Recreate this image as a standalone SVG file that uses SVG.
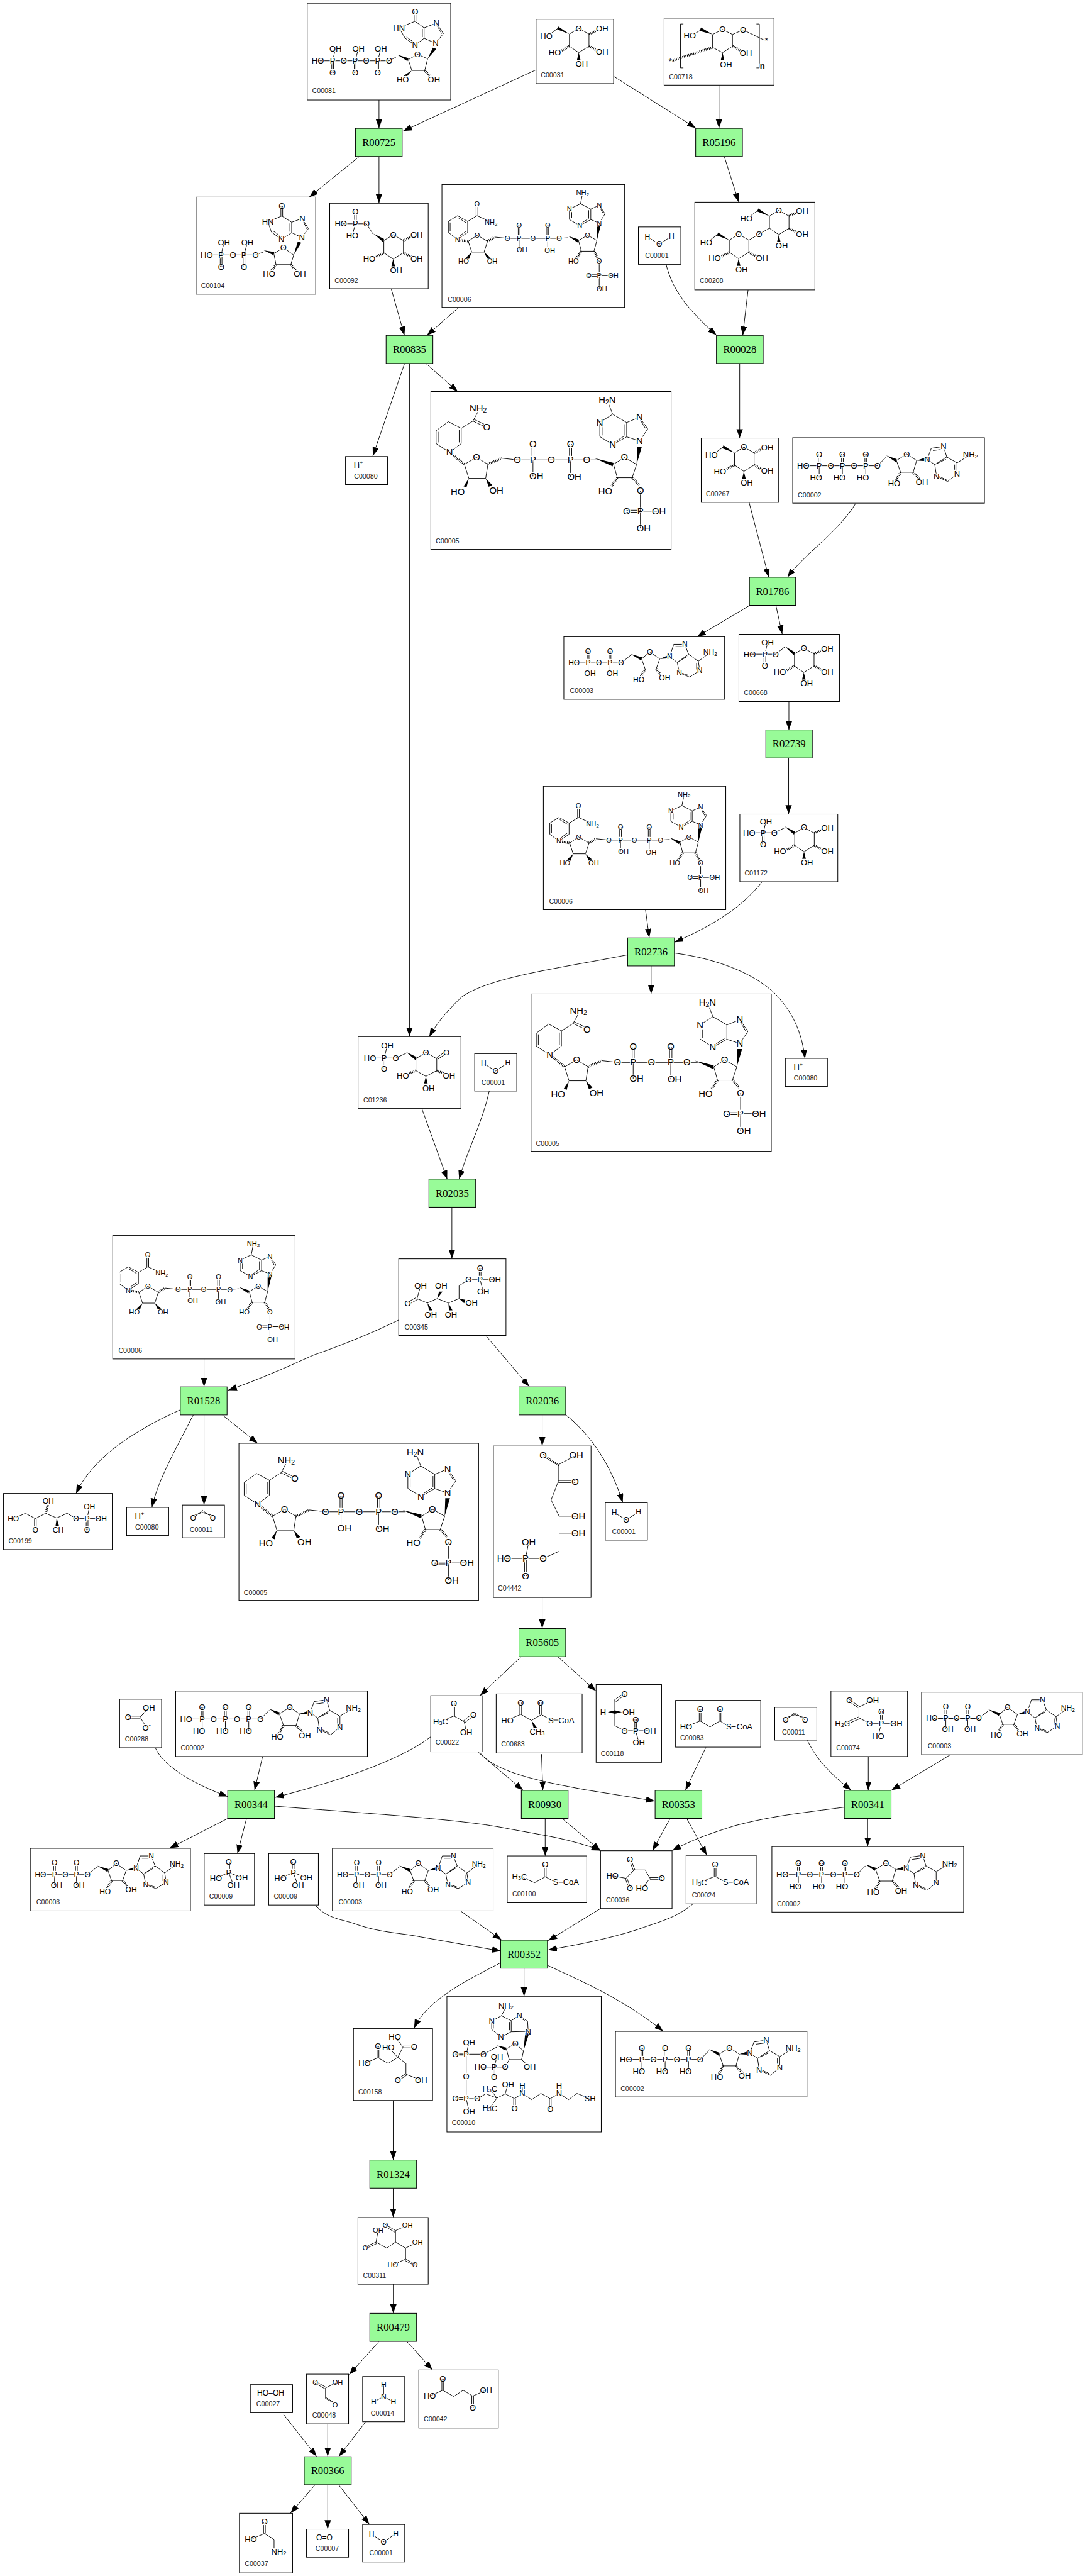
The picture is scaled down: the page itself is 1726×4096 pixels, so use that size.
<svg xmlns="http://www.w3.org/2000/svg" width="1726" height="4096" viewBox="0 0 1726 4096" style="background:#fff">
<style>
.n{fill:#fff;stroke:#000;stroke-width:1.1}
.r{fill:#98fb98;stroke:#000;stroke-width:1.1}
.t{font:18px "Liberation Serif","Times New Roman",serif;text-anchor:middle;fill:#000}
.l{font:11.5px "Liberation Sans",Arial,sans-serif;fill:#222}
.m{font-family:"Liberation Sans",Arial,sans-serif;font-size:14px}
.f12{font-size:12px}.f13{font-size:13px}.f16{font-size:16px}
.m text{text-anchor:middle;dominant-baseline:central;paint-order:stroke;stroke:#fff;stroke-width:2.5px;fill:#000}
.m path{fill:none;stroke:#000;stroke-width:1}
.m path.w{fill:#000;stroke:none}
.m path.h{stroke-dasharray:1.2 1.6;stroke-width:4}
.s{font-size:70%}
#connectors path{fill:none;stroke:#000;stroke-width:1;marker-end:url(#a)}
</style>
<defs>
<marker id="a" markerUnits="userSpaceOnUse" markerWidth="16" markerHeight="12" refX="15" refY="5.5" orient="auto"><path d="M0,0L15,5.5L0,11z" fill="#000"/></marker>
<g id="hr" class="m"><path d="M0,0L16,-9.9L33.5,0V20.7L16,31.7L0,20.7Z"/><path class="h" d="M33.5,20.7L47,28"/><path class="w" d="M16,31.7L13,44H19Z"/><text x="16" y="-9.9">O</text><text x="56" y="30.7">OH</text><text x="21" y="50.7">OH</text></g>
<g id="h1" class="m"><path class="h" d="M33.5,0L48,-7"/><text x="56" y="-9.3">OH</text></g>
<g id="h4" class="m"><path class="h" d="M0,20.7L-13,28"/><text x="-25" y="31.2">HO</text></g>
<g id="hm" class="m"><path class="w" d="M0,0L-19,-13L-21,-8Z"/><path d="M-19,-10.3L-33,0"/><text x="-39.5" y="3.7">HO</text></g>
<g id="glc"><use href="#hr"/><use href="#h1"/><use href="#h4"/></g>
<g id="water" class="m f13"><path d="M15.4,17L35.8,29.6L56.8,15.8"/><text x="15.4" y="17">H</text><text x="35.8" y="29.6">O</text><text x="56.8" y="15.8">H</text></g>
<g id="hplus" class="m"><text x="22" y="15">H<tspan class="s" dy="-4">+</tspan></text></g>
<g id="co2" class="m f13"><path d="M18.4,22L34.4,9L52,22M18.4,18L34.4,12.5L52,18"/><text x="18.4" y="22">O</text><text x="52" y="22">O</text></g>
<g id="pi" class="m"><path d="M40.5,14.7V32.3M43.5,14.7V32.3M42,32.3L20,42.3M42,32.3L64.3,41.3M42,32.3L50,54"/><text x="42" y="14.7">O</text><text x="42" y="32.3">P</text><text x="20" y="42.3">HO</text><text x="64.3" y="41.3">OH</text><text x="50" y="54">OH</text></g>
<g id="atp" class="m"><path d="M18,48H145L160,33M43.8,28V48M46.8,28V48M83.5,28V48M86.5,28V48M123.5,28V48M126.5,28V48M45.3,48V68M85,48V68M125,48V68M177.4,39L195,28L212,39L206,59H184.5ZM230,37L237,18L258,15L263.5,33L243,46ZM243,46L246,66L265,75L281,62L281,43L263.5,33M240,22L255,20M247,44L262,37M277,46V59M250,66L263,72M281,43L304,29"/><path class="w" d="M160,30.5L178,36.5L176,41.5ZM212,39L228,33.5L228,40Z"/><path class="h" d="M184.5,59L176,74M206,59L218,72"/><text x="18" y="48">HO</text><text x="45.3" y="48">P</text><text x="65" y="48">O</text><text x="85" y="48">P</text><text x="105" y="48">O</text><text x="125" y="48">P</text><text x="145" y="48">O</text><text x="45.3" y="28">O</text><text x="85" y="28">O</text><text x="125" y="28">O</text><text x="40" y="68">HO</text><text x="80" y="68">HO</text><text x="120" y="68">HO</text><text x="195" y="28">O</text><text x="173.6" y="78">HO</text><text x="221" y="76">OH</text><text x="230" y="37">N</text><text x="258" y="15">N</text><text x="246" y="66">N</text><text x="281" y="62">N</text><text x="304" y="29">NH<tspan class="s" dy="3">2</tspan></text></g>
<g id="adp" class="m f13"><path d="M17.5,45H98L114,32M40,25V45M43,25V45M77.5,25V45M80.5,25V45M41.5,45V63M79,45V63M133,38L147,26L164,38L158,55H139ZM181,34L188,13L207,13L213.4,30L194,44ZM194,44L197.6,62L215,69L232.5,58L230,42L213.4,30M191,17L204,17M197,42L211,34M227,45V56M201,62L213,66M230,42L250.5,27"/><path class="w" d="M114,29.5L134,35.5L132,40.5ZM164,38L180,31L180,37Z"/><path class="h" d="M139,55L131,70M158,55L168,68"/><text x="17.5" y="45">HO</text><text x="41.5" y="45">P</text><text x="60" y="45">O</text><text x="79" y="45">P</text><text x="98" y="45">O</text><text x="41.5" y="25">O</text><text x="79" y="25">O</text><text x="44.8" y="63.3">OH</text><text x="83" y="63.3">OH</text><text x="147" y="26">O</text><text x="128" y="74">HO</text><text x="172.5" y="71">OH</text><text x="181" y="34">N</text><text x="207" y="13">N</text><text x="197.6" y="62">N</text><text x="232.5" y="58">N</text><text x="250.5" y="27">NH<tspan class="s" dy="3">2</tspan></text></g>
<g id="nad" class="m f12"><path d="M11,82V63L26.6,53.4L44,63V82L26.6,93.7ZM14,80V65M28,57L41,65M41,80L29,89M44,63L60,53.4L84,64M58.5,53.4V33M61.5,53.4V33M78,97L60.3,86.6L45,97L51,115.5H72ZM90,89.8L112,92H200.6L216,91M132,92V111M130.5,70V92M133.5,70V92M181,92V113M179.5,70V92M182.5,70V92M233.6,95.7L249,86.6L265,95.7L260,114H238.5ZM269,130.5V178M251,154.3H269M251,157.3H269M269,155.8H293M237,33L218,42V60L235.7,70L254.6,60V42ZM254.6,42L269,35.6L279,50L269,66L254.6,60M237,33L240.6,15M222,45V57M239,66L251,58M251,44V58M271,41L276,50"/><path class="h" d="M26.6,93.7L45,97M78,97L90,89.8M238.5,114L230,126M260,114L269,130"/><path class="w" d="M51,115.5L41,125L46,128ZM72,115.5L78,128L83,125ZM216,88L233.6,94L232,99ZM265,68L272,68L265,95.7Z"/><text x="26.6" y="93.7">N</text><text x="60" y="33">O</text><text x="84" y="64">NH<tspan class="s" dy="3">2</tspan></text><text x="60.3" y="86.6">O</text><text x="37" y="131">HO</text><text x="86" y="130.5">OH</text><text x="112" y="92">O</text><text x="132" y="92">P</text><text x="132" y="70">O</text><text x="136.8" y="111.5">OH</text><text x="155.7" y="92">O</text><text x="181" y="92">P</text><text x="181" y="70">O</text><text x="184.5" y="113">OH</text><text x="200.6" y="92.5">O</text><text x="249" y="86.6">O</text><text x="225" y="130.5">HO</text><text x="269" y="130.5">O</text><text x="269" y="155.8">P</text><text x="251" y="155.8">O</text><text x="293" y="155.8">OH</text><text x="273.6" y="178">OH</text><text x="240.6" y="13.4">NH<tspan class="s" dy="3">2</tspan></text><text x="218" y="42">N</text><text x="235.7" y="70">N</text><text x="269" y="35.6">N</text><text x="269" y="66">N</text></g>
<g id="nadh" class="m f16"><path d="M52,63L30,51.5L9,67V89L32,104L52,89ZM12.5,69V87M48.5,66V87M52,63L72,50.5L81,34M72,50.5L92,60M73.5,47.5L93.5,57M57.4,124.5L78,112.8L97.6,124.5L93.8,148.5H65ZM121,114L148,117H266.6H285M174.7,117V145M239,117V146M173,90V117M176.5,90V117M237,90V117M241,90V117M312.5,124.5L331,112.8L352,124.5L344.4,147.4H319ZM358.4,169.4V234M334.8,203H358M334.8,206.5H358M358,204.6H390M311,38.8L289,53V77L311,91L335,77.5V53ZM335,53L357,44L371,64L357,84.7L335,77.5M311,38.8L303,18M293,56V75M314,87L331,76M332,56V75M358,48L367,63"/><path class="h" d="M32,104L57.4,124.5M97.6,124.5L121,114M319,147.4L309,162M344.4,147.4L356,160"/><path class="w" d="M65,148.5L56,162L61,164ZM93.8,148.5L105,160L99,163ZM280,114L312.5,122L311,128ZM353,94L361,94L352,124.5Z"/><text x="81" y="29">NH<tspan class="s" dy="3">2</tspan></text><text x="95.7" y="60.7">O</text><text x="32" y="104">N</text><text x="78" y="112.8">O</text><text x="46" y="171.4">HO</text><text x="112" y="169.4">OH</text><text x="148" y="117">O</text><text x="174.7" y="117">P</text><text x="174.7" y="89.8">O</text><text x="180.5" y="145">OH</text><text x="206" y="117">O</text><text x="239" y="117">P</text><text x="239" y="89.8">O</text><text x="245.5" y="146">OH</text><text x="266.6" y="117">O</text><text x="331" y="112.8">O</text><text x="298.5" y="170.4">HO</text><text x="358.4" y="169.4">O</text><text x="358.4" y="204.6">P</text><text x="334.8" y="204.6">O</text><text x="390" y="204.6">OH</text><text x="364" y="234">OH</text><text x="301.7" y="14.8">H<tspan class="s" dy="3">2</tspan><tspan dy="-3">N</tspan></text><text x="289" y="53">N</text><text x="311" y="91">N</text><text x="357" y="44">N</text><text x="357" y="84.7">N</text></g>
</defs>
<g transform="scale(.92996)">
<g id="connectors">
<path d="M648.3,171V219"/>
<path d="M917,119.4L689.7,224"/>
<path d="M1049.6,130.5L1190,218.7"/>
<path d="M1229.9,145.5V219"/>
<path d="M614.6,267.7L529,337"/>
<path d="M648.3,267.7V347"/>
<path d="M1239,267.7L1263.5,345.2"/>
<path d="M669.4,494.3L691.8,573.3"/>
<path d="M784.4,526L730.4,573.3"/>
<path d="M1139.4,452C1148,485 1160,500 1169,514C1185,535 1205,555 1225.6,573"/>
<path d="M1279.7,495.5L1270.5,573.3"/>
<path d="M692,621.6L637.8,779.6"/>
<path d="M700.5,621.6V1772"/>
<path d="M728.8,621.6L783,669.4"/>
<path d="M1265.3,621.6V748.8"/>
<path d="M1281.4,859L1315,987"/>
<path d="M1464.3,860C1432,912 1378,945 1347,987"/>
<path d="M1282,1035.4L1192.6,1088.6"/>
<path d="M1327.3,1035.4L1338,1084"/>
<path d="M1349.5,1199V1248"/>
<path d="M1349,1296.4V1391.8"/>
<path d="M1104.2,1555.6L1110.6,1603"/>
<path d="M1303.8,1507.6C1270,1550 1225,1580 1154,1611"/>
<path d="M1073.6,1632.6C960,1655 840,1670 790.5,1704C768,1725 748,1748 734.3,1772.4"/>
<path d="M1113.8,1651.5V1699"/>
<path d="M1154,1629.6C1230,1640 1290,1665 1326,1699C1360,1735 1372,1770 1377,1809.7"/>
<path d="M721.6,1895.4L765,2016"/>
<path d="M837,1865.3C825,1920 800,1965 785.4,2016"/>
<path d="M773,2064V2152"/>
<path d="M349,2323.4V2371"/>
<path d="M682,2257C635,2280 585,2300 535.7,2317.2C485,2340 440,2360 390.3,2377"/>
<path d="M831,2283.6L905.3,2370.8"/>
<path d="M308.4,2410.6C232,2445 160,2490 130,2553.5"/>
<path d="M330.6,2419.3C305,2470 270,2530 260,2577"/>
<path d="M349,2419.3V2573"/>
<path d="M380.3,2419.3L440.8,2467.8"/>
<path d="M927.5,2419.3V2472"/>
<path d="M968,2419.3C1000,2445 1040,2490 1065.3,2568.8"/>
<path d="M927.5,2731.5V2784"/>
<path d="M891.8,2832.3L821.2,2899"/>
<path d="M953.8,2832.3L1019.3,2891"/>
<path d="M266,2989C280,3020 330,3050 389.5,3071.7"/>
<path d="M449.2,3003.3L435.5,3061"/>
<path d="M736.8,2969.7C690,3005 600,3040 470.5,3073.3"/>
<path d="M817.2,2995.3L894.7,3061"/>
<path d="M820,2995.3C845,3030 925,3046 1000,3060L1120,3079.3"/>
<path d="M926.3,2999.3L928.6,3061"/>
<path d="M389.5,3109.3L290.2,3160"/>
<path d="M421.7,3109.3L406.2,3169"/>
<path d="M469.9,3088.3C650,3102 800,3112 868.9,3126.7C930,3138 980,3145 1026.7,3164"/>
<path d="M932.6,3109.3V3173"/>
<path d="M961.8,3109.3L1027,3164"/>
<path d="M1207.4,2987.7L1172.5,3061"/>
<path d="M1146.3,3109.3L1116.3,3164"/>
<path d="M1174.7,3109.3L1209,3172"/>
<path d="M1444.3,3090C1370,3100 1320,3105 1256.6,3121.7C1215,3135 1185,3145 1150,3164"/>
<path d="M1381,2975.7C1400,3015 1430,3040 1455.8,3061"/>
<path d="M1485.3,3003.3V3061"/>
<path d="M1625,3000.7L1525,3061"/>
<path d="M1484.2,3109.3V3157"/>
<path d="M1027.3,3263.3L938,3318"/>
<path d="M1185.6,3255.3C1155,3280 1130,3285 1088,3300C1040,3315 990,3325 937.8,3334"/>
<path d="M787.7,3267.3L857.8,3316.7"/>
<path d="M541,3259.3C560,3280 585,3282 604,3288.3C650,3305 680,3304 719,3311.7L856.6,3336"/>
<path d="M856.4,3356C800,3385 730,3420 708.4,3467.7"/>
<path d="M896.4,3365.3V3413"/>
<path d="M937.8,3361C990,3385 1070,3420 1134.2,3473"/>
<path d="M672.6,3591.3V3693"/>
<path d="M672.6,3741.3V3791"/>
<path d="M672.8,3905.5V3955"/>
<path d="M647.9,4004L597.4,4060"/>
<path d="M696.5,4004L739.7,4052"/>
<path d="M484.5,4127.5L541.5,4200"/>
<path d="M560.6,4144V4200"/>
<path d="M625,4141.5L579.8,4200"/>
<path d="M539.2,4248.3L497,4297"/>
<path d="M560.6,4248.3V4324"/>
<path d="M580,4249.5L631.8,4316"/>
</g>
<g id="C00081" transform="translate(525.5,5.5)"><rect class="n" width="245.5" height="165.5"/><text class="l" x="8.4" y="153.8">C00081</text><g class="m"><path d="M183,14V31M186,14V31M184.5,31L157,42M157,42L167.7,60L184.5,71.6L200,60V42L184.5,31M170,58L184,68M197,44V58M200,42L221,34L233,52L219.6,68.4L200,60M222,38L230,52M173,96.5L188.7,87.4L206,95L201,115H179ZM140.3,98.5L154,91M18.2,98.5H140M43.5,98.5L48.4,77.5M82,98.5L87.7,77.5M120.7,98.5L126,77.5M42,98.5V119M45,98.5V119M80.5,98.5V119M83.5,98.5V119M119.2,98.5V119M122.2,98.5V119"/><path class="w" d="M154,88L173.5,94L171.5,99ZM206,95L215,76L221,78ZM179,115L170,126L165,124Z"/><path class="h" d="M201,115L212,127"/><text x="184.5" y="14">O</text><text x="157" y="42">HN</text><text x="184.5" y="71.6">N</text><text x="221" y="34">N</text><text x="219.6" y="68.4">N</text><text x="188.7" y="87.4">O</text><text x="163.4" y="131">HO</text><text x="216.8" y="131">OH</text><text x="140.3" y="98.5">O</text><text x="120.7" y="98.5">P</text><text x="126" y="77.5">OH</text><text x="120.7" y="119">O</text><text x="101" y="98.5">O</text><text x="82" y="98.5">P</text><text x="87.7" y="77.5">OH</text><text x="82" y="119">O</text><text x="62.4" y="98.5">O</text><text x="43.5" y="98.5">P</text><text x="48.4" y="77.5">OH</text><text x="43.5" y="119">O</text><text x="18.2" y="98.5">HO</text></g></g>
<g id="C00031" transform="translate(917,33)"><rect class="n" width="132.6" height="110"/><text class="l" x="8" y="99.6">C00031</text><use href="#glc" x="57" y="25.3"/><use href="#hm" x="57" y="25.3"/></g>
<g id="C00718" transform="translate(1136,31)"><rect class="n" width="188" height="114.5"/><text class="l" x="8.4" y="104.8">C00718</text><g class="m"><path d="M33,10H28V85H33M158,10H163V85H158M83,28L100,19.4L117,28V48L100,59L83,50ZM117,28L135,20L172,38"/><path class="h" d="M117,48L132,56M83,50L13,73"/><path class="w" d="M83,28L63,16L61,22ZM100,59L97,72H103Z"/><path d="M65,19L50,28"/><text x="44" y="30">HO</text><text x="100" y="19.4">O</text><text x="135" y="20">O</text><text x="175" y="38.7">*</text><text x="140" y="59.7">OH</text><text x="106" y="79.5">OH</text><text x="10.5" y="73.5">*</text><text x="168" y="81.5" font-weight="bold">n</text></g></g>
<g id="R00725" transform="translate(608,219.5)"><rect class="r" width="80" height="48"/><text class="t" x="40" y="30">R00725</text></g>
<g id="R05196" transform="translate(1190,219.5)"><rect class="r" width="80" height="48"/><text class="t" x="40" y="30">R05196</text></g>
<g id="C00104" transform="translate(335.4,337)"><rect class="n" width="204.6" height="166"/><text class="l" x="8.4" y="155">C00104</text><g class="m"><path d="M145.1,15.4V32.4M148.1,15.4V32.4M146.6,32.4L122.8,42.3L129,60L146,72L163.5,61V43L146.6,32.4M132,58L146,68M160.5,45V59M163.5,43L181.7,36.4L192,54L181,69L163.5,61M183,40L189,54M133,96.5L149.4,86.6L167,99L162,115.5H136.8ZM18.2,98.9H101.7L115.7,93.7M42.8,98.9L47.7,77.9M82,98.9L87.7,77.9M41.3,98.9V119.4M44.3,98.9V119.4M80.5,98.9V119.4M83.5,98.9V119.4"/><path class="w" d="M115.7,91L134,94L132,99ZM167,99L174,76L180,78Z"/><path class="h" d="M136.8,115.5L128,127M162,115.5L173,127"/><text x="146.6" y="15.4">O</text><text x="122.8" y="42.3">HN</text><text x="146" y="72">N</text><text x="181.7" y="36.4">N</text><text x="181" y="69">N</text><text x="149.4" y="86.6">O</text><text x="124.9" y="131.3">HO</text><text x="177.5" y="131.3">OH</text><text x="101.7" y="98.9">O</text><text x="82" y="98.9">P</text><text x="87.7" y="77.9">OH</text><text x="82" y="119.4">O</text><text x="63" y="98.9">O</text><text x="42.8" y="98.9">P</text><text x="47.7" y="77.9">OH</text><text x="42.8" y="119.4">O</text><text x="18.2" y="98.9">HO</text></g></g>
<g id="C00092" transform="translate(564,347.6)"><rect class="n" width="168.5" height="146"/><text class="l" x="8.4" y="136.4">C00092</text><g class="m"><path d="M42.5,14V35M45.5,14V35M19,35H63L75,54M44,35L38.6,54.6"/><path class="w" d="M75,52L93,61L91,66Z"/><text x="44" y="14">O</text><text x="44" y="35">P</text><text x="19" y="35">HO</text><text x="63" y="35">O</text><text x="38.6" y="54.6">HO</text></g><use href="#glc" x="92.6" y="63.7"/></g>
<g id="C00006a" transform="translate(756,315.5)"><rect class="n" width="312.5" height="210"/><text class="l" x="9.8" y="200.5">C00006</text><use href="#nad"/></g>
<g id="C00001a" transform="translate(1092,388)"><rect class="n" width="72.6" height="64"/><text class="l" x="11.5" y="53">C00001</text><use href="#water"/></g>
<g id="C00208" transform="translate(1188.5,345.6)"><rect class="n" width="205.5" height="150"/><text class="l" x="8.4" y="138.4">C00208</text><use href="#hr" x="127.7" y="24"/><use href="#h1" x="127.7" y="24"/><use href="#hm" x="127.7" y="24"/><use href="#hr" x="59" y="65"/><use href="#h4" x="59" y="65"/><use href="#hm" x="59" y="65"/><g class="m"><path d="M92.6,65L110,54.6L127.7,44.7"/><text x="110" y="54.6">O</text></g></g>
<g id="R00835" transform="translate(660.5,573.4)"><rect class="r" width="80" height="48"/><text class="t" x="40" y="30">R00835</text></g>
<g id="R00028" transform="translate(1225.5,573.4)"><rect class="r" width="80" height="48"/><text class="t" x="40" y="30">R00028</text></g>
<g id="C00080a" transform="translate(591,780.5)"><rect class="n" width="72" height="48"/><text class="l" x="14.6" y="38">C00080</text><use href="#hplus"/></g>
<g id="C00005a" transform="translate(737,669.4)"><rect class="n" width="411" height="270"/><text class="l" x="8.3" y="259.7">C00005</text><use href="#nadh"/></g>
<g id="C00267" transform="translate(1199.5,749)"><rect class="n" width="132.5" height="110"/><text class="l" x="8" y="99.6">C00267</text><use href="#glc" x="57" y="25.3"/><use href="#hm" x="57" y="25.3"/></g>
<g id="C00002a" transform="translate(1356,748.4)"><rect class="n" width="328" height="112"/><text class="l" x="8.7" y="101.7">C00002</text><use href="#atp"/></g>
<g id="R01786" transform="translate(1282,987)"><rect class="r" width="79" height="48"/><text class="t" x="39.5" y="30">R01786</text></g>
<g id="C00003a" transform="translate(964.5,1088.6)"><rect class="n" width="275" height="107"/><text class="l" x="10.4" y="96">C00003</text><use href="#adp"/></g>
<g id="C00668" transform="translate(1264,1084.5)"><rect class="n" width="172" height="115"/><text class="l" x="8.4" y="104">C00668</text><g class="m"><path d="M44.4,34L49,14M18.4,34H62.8L78,22M42.9,34V54M45.9,34V54"/><path class="w" d="M78,20L96,31L94,36Z"/><text x="49" y="14">OH</text><text x="44.4" y="34">P</text><text x="18.4" y="34">HO</text><text x="62.8" y="34">O</text><text x="44.4" y="54">O</text></g><use href="#glc" x="95" y="33.5"/></g>
<g id="R02739" transform="translate(1310,1248)"><rect class="r" width="79.5" height="48"/><text class="t" x="39.75" y="30">R02739</text></g>
<g id="C00006b" transform="translate(929.5,1344.4)"><rect class="n" width="312" height="211"/><text class="l" x="9.8" y="200.5">C00006</text><use href="#nad"/></g>
<g id="C01172" transform="translate(1265.6,1392)"><rect class="n" width="167.5" height="115.6"/><text class="l" x="8" y="104.6">C01172</text><g class="m"><path d="M40,32L44.6,13M16,32H59L76.5,23.5M38.5,32V51.5M41.5,32V51.5"/><path class="w" d="M76.5,21L94.5,30L92.5,35Z"/><text x="44.6" y="13">OH</text><text x="40" y="32">P</text><text x="16" y="32">HO</text><text x="59" y="32">O</text><text x="40" y="51.5">O</text></g><use href="#glc" x="93.8" y="32.6"/></g>
<g id="R02736" transform="translate(1073.6,1603.6)"><rect class="r" width="80" height="48"/><text class="t" x="40" y="30">R02736</text></g>
<g id="C01236" transform="translate(612.5,1772.4)"><rect class="n" width="176" height="123"/><text class="l" x="9" y="113">C01236</text><g class="m"><path d="M44.6,36.7L50,15.3M20.4,36.7H64.4L82,28.6M43.1,36.7V55.6M46.1,36.7V55.6M98.9,37.8L116,27L134.6,37.8V58.2L116,67.9L98.9,58.2ZM134.6,36L150,25M136,39L152,28"/><path class="w" d="M82,26L100,35L98,40ZM116,67.9L113,80H119Z"/><path class="h" d="M98.9,58.2L86,63M134.6,58.2L147,63"/><text x="50" y="15.3">OH</text><text x="44.6" y="36.7">P</text><text x="20.4" y="36.7">HO</text><text x="64.4" y="36.7">O</text><text x="44.6" y="55.6">O</text><text x="116" y="27">O</text><text x="151" y="27">O</text><text x="76.5" y="66.8">HO</text><text x="155.6" y="66.8">OH</text><text x="120.5" y="88.8">OH</text></g></g>
<g id="C00001b" transform="translate(812,1801.5)"><rect class="n" width="72" height="64"/><text class="l" x="11.5" y="53">C00001</text><use href="#water"/></g>
<g id="C00005b" transform="translate(908.4,1699.5)"><rect class="n" width="411" height="269"/><text class="l" x="8.3" y="259.7">C00005</text><use href="#nadh"/></g>
<g id="C00080b" transform="translate(1343.4,1809.7)"><rect class="n" width="72" height="48"/><text class="l" x="14.6" y="38">C00080</text><use href="#hplus"/></g>
<g id="R02035" transform="translate(733.7,2016)"><rect class="r" width="80" height="48"/><text class="t" x="40" y="30">R02035</text></g>
<g id="C00006c" transform="translate(192.8,2112.6)"><rect class="n" width="312" height="211"/><text class="l" x="9.8" y="200.5">C00006</text><use href="#nad"/></g>
<g id="C00345" transform="translate(682,2152.4)"><rect class="n" width="183.5" height="131"/><text class="l" x="9.9" y="120.4">C00345</text><g class="m"><path d="M137.8,15.8V35.7M140.8,15.8V35.7M119.4,35.7H164.5M139.3,35.7L144.6,56M119.4,35.7L103.3,46V68L85,75.5L65.8,68L49,75.5L31.4,68M31.4,68L37.5,46M30,66L14,75M33,69L17,78"/><path class="w" d="M49,75.5L52,88H58ZM85,75.5L86,88H92ZM65.8,68L69,56H75ZM103.3,68L114,70L112,76Z"/><text x="139.3" y="15.8">O</text><text x="139.3" y="35.7">P</text><text x="164.5" y="35.7">OH</text><text x="144.6" y="56">OH</text><text x="119.4" y="35.7">O</text><text x="15.3" y="76.5">O</text><text x="37.5" y="46">OH</text><text x="72.7" y="46">OH</text><text x="55" y="96">OH</text><text x="89.5" y="96">OH</text><text x="124.7" y="75.5">OH</text></g></g>
<g id="R01528" transform="translate(308.4,2371.3)"><rect class="r" width="80" height="48"/><text class="t" x="40" y="30">R01528</text></g>
<g id="R02036" transform="translate(887.7,2371.3)"><rect class="r" width="80" height="48"/><text class="t" x="40" y="30">R02036</text></g>
<g id="C00199" transform="translate(6,2553.5)"><rect class="n" width="186" height="96"/><text class="l" x="8.4" y="85">C00199</text><g class="m f13"><path d="M16.8,42.9L37.5,34L54.4,43L72,34L91,42L108.7,34L124,43H167M53,43V63M56,43V63M143,43L147,23M141.5,43V63M144.5,43V63"/><path class="h" d="M72,34L76,20"/><path class="w" d="M91,42L89,56H95Z"/><text x="16.8" y="42.9">HO</text><text x="54.4" y="63">O</text><text x="76.5" y="13">OH</text><text x="93.4" y="63">CH</text><text x="124" y="43">O</text><text x="143" y="43">P</text><text x="147" y="23">OH</text><text x="167" y="43">OH</text><text x="143" y="63">O</text></g></g>
<g id="C00080c" transform="translate(216.6,2577.5)"><rect class="n" width="72" height="48"/><text class="l" x="14.6" y="38">C00080</text><use href="#hplus"/></g>
<g id="C00011a" transform="translate(312,2573.4)"><rect class="n" width="72" height="56"/><text class="l" x="12.5" y="46">C00011</text><use href="#co2"/></g>
<g id="C00005c" transform="translate(408.7,2467.8)"><rect class="n" width="410" height="268.5"/><text class="l" x="8.3" y="259.7">C00005</text><use href="#nadh"/></g>
<g id="C04442" transform="translate(844,2472.4)"><rect class="n" width="167" height="259"/><text class="l" x="7.6" y="247.4">C04442</text><g class="m f16"><path d="M85,14L110,31M86,18L112,34M111,32L141.6,15.8M111,32V60.7L98.7,92.3L112.5,120V180L85,192.3H18.4M111,59H140M111,62.5H140M112.5,120H145.4M112.5,149H145.4M55,192.3L60.5,163.8M53.3,192.3V222.4M56.8,192.3V222.4"/><text x="85" y="15.8">O</text><text x="141.6" y="15.8">OH</text><text x="140" y="60.7">O</text><text x="145.4" y="120">OH</text><text x="145.4" y="149">OH</text><text x="85" y="192.3">O</text><text x="55" y="192.3">P</text><text x="18.4" y="192.3">HO</text><text x="60.5" y="163.8">OH</text><text x="55" y="222.4">O</text></g></g>
<g id="C00001c" transform="translate(1035.4,2569.3)"><rect class="n" width="72" height="64"/><text class="l" x="11.5" y="53">C00001</text><use href="#water"/></g>
<g id="R05605" transform="translate(887.7,2784.6)"><rect class="r" width="80" height="48"/><text class="t" x="40" y="30">R05605</text></g>
<g id="C00288" transform="translate(204.7,2905.3)"><rect class="n" width="71.7" height="83"/><text class="l" x="9" y="72">C00288</text><g class="m"><path d="M14.4,29H35M14.4,32.5H35M35,30.7L50,14.7M35,30.7L46,48.7"/><text x="50" y="14.7">OH</text><text x="14.4" y="30.7">O</text><text x="46" y="48.7">O<tspan class="s" dy="-4">-</tspan></text></g></g>
<g id="C00002b" transform="translate(300.5,2891.3)"><rect class="n" width="328" height="112"/><text class="l" x="8.7" y="101.7">C00002</text><use href="#atp"/></g>
<g id="C00022" transform="translate(736.8,2899.3)"><rect class="n" width="88" height="96"/><text class="l" x="8" y="84">C00022</text><g class="m"><path d="M38,13.3V34.7M41,13.3V34.7M39.6,34.7L17,44M39.6,34.7L57.4,44.7L60.8,62.3M56,43L71,31M58.5,46L74,34"/><text x="39.6" y="13.3">O</text><text x="17" y="44">H<tspan class="s" dy="3">3</tspan><tspan dy="-3">C</tspan></text><text x="73" y="33">O</text><text x="60.8" y="62.3">OH</text></g></g>
<g id="C00683" transform="translate(848.8,2896.3)"><rect class="n" width="147" height="101"/><text class="l" x="8.6" y="89.7">C00683</text><g class="m"><path d="M40.5,14.7V35M43.5,14.7V35M19,44.7L42,35L60.3,45.3L77.5,35.3L93.6,44.7H105M74.3,14.7V35.3M77.3,14.7V35.3"/><path class="w" d="M60.3,45.3L64,58H70Z"/><text x="42" y="14.7">O</text><text x="19" y="44.7">HO</text><text x="75.8" y="14.7">O</text><text x="93.6" y="44.7">S</text><text x="120" y="44.7">CoA</text><text x="70" y="64.3">CH<tspan class="s" dy="3">3</tspan></text></g></g>
<g id="C00118" transform="translate(1019.7,2880.3)"><rect class="n" width="112" height="133"/><text class="l" x="8" y="122.3">C00118</text><g class="m"><path d="M30.5,27L47,15M33.5,29.5L49,17.5M32,27V70.3L48.6,79H92M66.2,59.7V79M69.2,59.7V79M67.7,79L73,98.7"/><path class="w" d="M20,47L32,44V50ZM44,47L32,44V50Z"/><text x="48.6" y="16.3">O</text><text x="12" y="47">H</text><text x="55.7" y="47">OH</text><text x="48.6" y="79">O</text><text x="67.7" y="79">P</text><text x="67.7" y="59.7">O</text><text x="92" y="79">OH</text><text x="73" y="98.7">OH</text></g></g>
<g id="C00083" transform="translate(1155.6,2907.3)"><rect class="n" width="145.7" height="80"/><text class="l" x="8" y="68">C00083</text><g class="m"><path d="M40.5,15V35.3M43.5,15V35.3M18,45L42,35.3L59,45.3L76,35.3L91,45H103M74.5,15V35.3M77.5,15V35.3"/><text x="42" y="15">O</text><text x="18" y="45">HO</text><text x="76" y="15">O</text><text x="91" y="45">S</text><text x="118" y="45">CoA</text></g></g>
<g id="C00011b" transform="translate(1325.3,2919.3)"><rect class="n" width="72" height="56"/><text class="l" x="12.5" y="46">C00011</text><use href="#co2"/></g>
<g id="C00074" transform="translate(1421.4,2891.3)"><rect class="n" width="131" height="112"/><text class="l" x="9" y="101.3">C00074</text><g class="m"><path d="M31.7,14.5L48,26M30.5,17.5L46.5,28.5M48,27.3L71.5,16M48,27.3V46M48,46L66,55.3H112M47,44.5L25,54M49,47.5L27,57M84.7,34.7V55.3M87.7,34.7V55.3M86.2,55.3L80.8,77.3"/><text x="31.7" y="16">O</text><text x="71.5" y="16">OH</text><text x="19.7" y="55.3">H<tspan class="s" dy="3">2</tspan><tspan dy="-3">C</tspan></text><text x="66" y="55.3">O</text><text x="86.2" y="55.3">P</text><text x="86.2" y="34.7">O</text><text x="112" y="55.3">OH</text><text x="80.8" y="77.3">HO</text></g></g>
<g id="C00003b" transform="translate(1576.4,2893.3)"><rect class="n" width="275" height="107"/><text class="l" x="10.4" y="96">C00003</text><use href="#adp"/></g>
<g id="R00344" transform="translate(389.5,3061.3)"><rect class="r" width="80" height="48"/><text class="t" x="40" y="30">R00344</text></g>
<g id="R00930" transform="translate(891.8,3061.3)"><rect class="r" width="80" height="48"/><text class="t" x="40" y="30">R00930</text></g>
<g id="R00353" transform="translate(1120.6,3061.3)"><rect class="r" width="80" height="48"/><text class="t" x="40" y="30">R00353</text></g>
<g id="R00341" transform="translate(1444.3,3061.3)"><rect class="r" width="80" height="48"/><text class="t" x="40" y="30">R00341</text></g>
<g id="C00003c" transform="translate(51.8,3160.3)"><rect class="n" width="274" height="107"/><text class="l" x="10.4" y="96">C00003</text><use href="#adp"/></g>
<g id="C00009a" transform="translate(349.3,3169.3)"><rect class="n" width="86" height="88"/><text class="l" x="8.6" y="77.3">C00009</text><use href="#pi"/></g>
<g id="C00009b" transform="translate(459.6,3169.3)"><rect class="n" width="85" height="88"/><text class="l" x="8.6" y="77.3">C00009</text><use href="#pi"/></g>
<g id="C00003d" transform="translate(568.6,3160.3)"><rect class="n" width="275" height="107"/><text class="l" x="10.4" y="96">C00003</text><use href="#adp"/></g>
<g id="C00100" transform="translate(867.7,3173.3)"><rect class="n" width="136" height="80"/><text class="l" x="8.6" y="68.3">C00100</text><g class="m"><path d="M63.5,15V35.7M66.5,15V35.7M21,35L47,45.7L65,35.7L82.7,45H95"/><text x="65" y="15">O</text><text x="21" y="35">H<tspan class="s" dy="3">3</tspan><tspan dy="-3">C</tspan></text><text x="82.7" y="45">S</text><text x="109" y="45">CoA</text></g></g>
<g id="C00036" transform="translate(1027.3,3164.3)"><rect class="n" width="122.3" height="99"/><text class="l" x="9.3" y="88.3">C00036</text><g class="m"><path d="M48.7,14.7L55.8,33M51.7,14.7L58.8,33M57.3,33H76.4L84.6,47.3L71,64.7M84.6,46H104.8M84.6,49H104.8M57.3,33L43.7,47.3L20.2,43M42.2,47.3L48.7,64.7M45.2,47.3L51.7,64.7"/><text x="50.2" y="14.7">O</text><text x="104.8" y="47.3">O</text><text x="71" y="64.7">HO</text><text x="20.2" y="43">HO</text><text x="50.2" y="64.7">O</text></g></g>
<g id="C00024" transform="translate(1173.6,3172.3)"><rect class="n" width="120" height="83"/><text class="l" x="10" y="72.3">C00024</text><g class="m"><path d="M48.2,16V36M51.2,16V36M23,46L49.7,36L67.7,46H80"/><text x="49.7" y="16">O</text><text x="23" y="46">H<tspan class="s" dy="3">3</tspan><tspan dy="-3">C</tspan></text><text x="67.7" y="46">S</text><text x="94" y="46">CoA</text></g></g>
<g id="C00002c" transform="translate(1320.4,3157.3)"><rect class="n" width="328" height="112"/><text class="l" x="8.7" y="101.7">C00002</text><use href="#atp"/></g>
<g id="R00352" transform="translate(856.4,3317.3)"><rect class="r" width="80" height="48"/><text class="t" x="40" y="30">R00352</text></g>
<g id="C00158" transform="translate(604.6,3468.3)"><rect class="n" width="135.4" height="123"/><text class="l" x="8.4" y="112.3">C00158</text><g class="m"><path d="M70.8,14.3L84.9,31.7L75.8,49.3M84.9,30.2H103.8M84.9,33.2H103.8M59.6,32.3L75.8,49.3L59.6,59.7L42,50L19,59.7M40.5,30V50M43.5,30V50M75.8,49.3L89.8,59.7V78.3L115.7,88.3M88.3,78.3L74.5,87M91,80L77,89"/><text x="70.8" y="14.3">HO</text><text x="103.8" y="31.7">O</text><text x="59.6" y="32.3">HO</text><text x="42" y="30">O</text><text x="19" y="59.7">HO</text><text x="75.8" y="88.3">O</text><text x="115.7" y="88.3">OH</text></g></g>
<g id="C00010" transform="translate(764.5,3413.3)"><rect class="n" width="264" height="232"/><text class="l" x="8.4" y="220">C00010</text><g class="m"><path d="M93.3,33.3L101,18M93.3,33.3L76.5,42.3V56.7L92.6,69.3L110,60.7V41.7ZM110,41.7L124,32.3L138,43L139,60L110,60.7M79.5,44V55M107,44V58M125,36L135,43M101.7,90L117,80.7L131,93.3L127.7,108.3H106.6ZM85.6,86.7L62.4,99H14.7M14.7,97.5H33M14.7,100.5H33M33,99L37.9,79M33,99V175M14.7,173.5H33M14.7,176.5H33M33,175L37.9,196.7M33,175H52L66.7,166.7L85.6,174L99.7,166.7L115.7,175L129,166L145,176.7L160.7,166L176.8,175L192,166L208,176.7L222.4,166L244.8,175M85.6,174L73.6,158.3M85.6,174L73.6,190.7M99.7,166.7L104.6,150.7M114.2,175V191.7M117.2,175V191.7M175.3,175V192.7M178.3,175V192.7M129,166V156M192,166V156M99.6,121H57.5M80.7,121L85.6,104M79.2,121V138.3M82.2,121V138.3M99.6,121L106.6,108.3M127.7,108.3L141.7,121"/><path class="w" d="M85.6,84L102,88L100,93ZM134,62L141,62L131,93.3Z"/><text x="101" y="16">NH<tspan class="s" dy="3">2</tspan></text><text x="76.5" y="42.3">N</text><text x="92.6" y="69.3">N</text><text x="124" y="32.3">N</text><text x="139" y="60">N</text><text x="117" y="80.7">O</text><text x="62.4" y="99">O</text><text x="33" y="99">P</text><text x="14.7" y="99">O</text><text x="37.9" y="79">OH</text><text x="33" y="136.7">O</text><text x="33" y="175">P</text><text x="14.7" y="175">O</text><text x="37.9" y="196.7">OH</text><text x="52" y="175">O</text><text x="73.6" y="158.3">H<tspan class="s" dy="3">3</tspan><tspan dy="-3">C</tspan></text><text x="73.6" y="190.7">H<tspan class="s" dy="3">3</tspan><tspan dy="-3">C</tspan></text><text x="104.6" y="150.7">OH</text><text x="115.7" y="191.7">O</text><text x="129" y="153.3">H</text><text x="129" y="166">N</text><text x="176.8" y="192.7">O</text><text x="192" y="153.3">H</text><text x="192" y="166">N</text><text x="244.8" y="175">SH</text><text x="99.6" y="121">O</text><text x="80.7" y="121">P</text><text x="57.5" y="121">HO</text><text x="85.6" y="104">OH</text><text x="80.7" y="138.3">O</text><text x="141.7" y="121">OH</text></g></g>
<g id="C00002d" transform="translate(1052.8,3473.3)"><rect class="n" width="327.6" height="112"/><text class="l" x="8.7" y="101.7">C00002</text><use href="#atp"/></g>
<g id="R01324" transform="translate(632.6,3693.3)"><rect class="r" width="80" height="48"/><text class="t" x="40" y="30">R01324</text></g>
<g id="C00311" transform="translate(612.3,3791.6)"><rect class="n" width="120.2" height="114"/><text class="l" x="8.8" y="103.2">C00311</text><g class="m f12"><path d="M34.4,22L31,42M31,42L12.6,50M32,44.5L13.6,53M31,42L49,52.2L64.3,42V22.3L84.6,13.2M64.3,22.3L47,12M63,25L46,15M64.3,42L81.5,52.2L101.8,42M81.5,52.2V71L59.7,81M81.5,71L97.6,79.5M80.5,73.5L96.6,82"/><text x="34.4" y="22">OH</text><text x="12.6" y="51.4">O</text><text x="47" y="13.2">O</text><text x="84.6" y="13.2">OH</text><text x="101.8" y="42">OH</text><text x="59.7" y="81">HO</text><text x="97.6" y="81">O</text></g></g>
<g id="R00479" transform="translate(632.6,3955.4)"><rect class="r" width="80" height="48"/><text class="t" x="40" y="30">R00479</text></g>
<g id="C00048" transform="translate(524.3,4059.4)"><rect class="n" width="72" height="85"/><text class="l" x="10" y="74.5">C00048</text><g class="m f12"><path d="M15,12L32.5,22M14,15L31.5,25M32.5,23.5L53.2,13.6M32.5,23.5V41.5L49,50.5M32.5,39.5L48,49"/><text x="15" y="13.6">O</text><text x="53.2" y="13.6">OH</text><text x="49" y="52.2">O</text></g></g>
<g id="C00014" transform="translate(620.3,4063.4)"><rect class="n" width="72" height="77.3"/><text class="l" x="14" y="66.6">C00014</text><g class="m f13"><path d="M36,14.3V34.3L18.8,43.4M36,34.3L52.8,43.4"/><text x="36" y="14.3">H</text><text x="36" y="34.3">N</text><text x="18.8" y="43.4">H</text><text x="52.8" y="43.4">H</text></g></g>
<g id="C00027" transform="translate(428.2,4077.3)"><rect class="n" width="72.3" height="48"/><text class="l" x="10.4" y="37">C00027</text><g class="m f13"><text x="34.8" y="14.3">HO–OH</text></g></g>
<g id="C00042" transform="translate(716.4,4052.2)"><rect class="n" width="136" height="99.3"/><text class="l" x="8.4" y="88">C00042</text><g class="m"><path d="M39.5,14.7V34.7M42.5,14.7V34.7M18.8,44.6L41,34.7L59.7,45.4L75.8,34.7L92.2,44.6L115,34.7M90.7,44.6V64.6M93.7,44.6V64.6"/><text x="41" y="14.7">O</text><text x="18.8" y="44.6">HO</text><text x="92.2" y="64.6">O</text><text x="115" y="34.7">OH</text></g></g>
<g id="R00366" transform="translate(520.4,4200.5)"><rect class="r" width="80.4" height="48"/><text class="t" x="40" y="30">R00366</text></g>
<g id="C00037" transform="translate(409.5,4297.3)"><rect class="n" width="91" height="102"/><text class="l" x="9" y="90.5">C00037</text><g class="m"><path d="M41.4,14.7V34.7M44.4,14.7V34.7M19.5,44.6L42.9,34.7L59.3,44.6V60"/><text x="42.9" y="14.7">O</text><text x="19.5" y="44.6">HO</text><text x="67.4" y="65.4">NH<tspan class="s" dy="3">2</tspan></text></g></g>
<g id="C00007" transform="translate(524.3,4324.4)"><rect class="n" width="72" height="48"/><text class="l" x="15.3" y="37">C00007</text><g class="m f13"><text x="30.6" y="14.4">O=O</text></g></g>
<g id="C00001d" transform="translate(620.3,4316.5)"><rect class="n" width="72" height="64"/><text class="l" x="11.5" y="53">C00001</text><use href="#water"/></g>
</g>
</svg>
